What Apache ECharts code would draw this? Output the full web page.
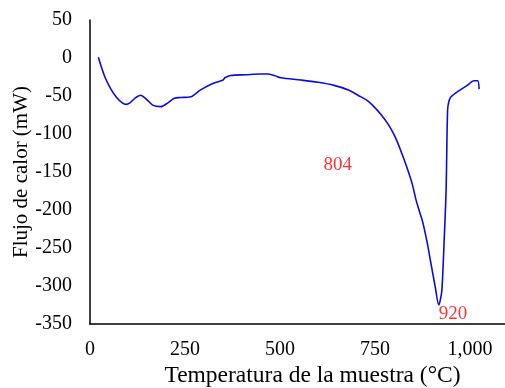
<!DOCTYPE html>
<html>
<head>
<meta charset="utf-8">
<script src="https://cdn.jsdelivr.net/npm/echarts@6/dist/echarts.min.js"></script>
<style>
  html, body { margin: 0; padding: 0; background: #fff; }
  #chart { width: 505px; height: 388px; }
</style>
</head>
<body>
<div id="chart"></div>
<script>
// temperatura (°C) y flujo de calor (mW)
const temperatura = [22, 30, 40, 55, 70, 85, 95, 105, 118, 133, 148, 165, 186, 205, 222, 238, 265, 291, 326, 350, 355, 370, 410, 449, 467, 485, 502, 555, 600, 642, 680, 705, 730, 747, 765, 783, 797, 810, 823, 836, 848, 858, 867, 876, 888, 897, 908, 918, 922, 926, 932, 937, 941, 945, 950, 968, 990, 1011, 1020, 1024]
const flujo = [1, -12, -26, -41, -52, -59, -61, -59, -53, -49, -54, -62, -64, -59, -53, -52, -51, -42, -33, -29, -26, -23, -22, -21, -21, -23, -26, -29, -32, -36, -42, -49, -56, -64, -74, -86, -98, -112, -129, -147, -166, -187, -202, -217, -245, -270, -300, -325, -318, -305, -239, -174, -68, -56, -51, -44, -37, -30, -30, -41]
const etiquetas = ['804', '920']
const etiquetaX = [652, 955]
const etiquetaY = [-141, -337]

const chart = echarts.init(document.getElementById('chart'))

const fuente = 'Liberation Serif'

const fmtMiles = (v) => {
  if (v % 250 !== 0) return ''
  return v >= 1000 ? Math.floor(v / 1000) + ',' + String(v % 1000).padStart(3, '0') : String(v)
}

chart.setOption({
  animation: false,
  grid: { left: 90, right: 0, top: 20, bottom: 64, outerBoundsMode: 'none' },
  xAxis: {
    type: 'value',
    min: 0,
    max: 1092,
    interval: 250,
    name: 'Temperatura de la muestra (°C)',
    nameLocation: 'middle',
    nameGap: 40,
    nameMoveOverlap: false,
    nameTextStyle: { fontFamily: fuente, fontSize: 23.5, color: '#000', padding: [0, 0, 0, 30] },
    axisLine: { show: true, onZero: false, lineStyle: { color: '#000', width: 1.5 } },
    axisTick: { show: false },
    splitLine: { show: false },
    axisLabel: {
      fontFamily: fuente,
      fontSize: 20,
      color: '#000',
      margin: 16,
      showMaxLabel: false,
      formatter: fmtMiles
    }
  },
  yAxis: {
    type: 'value',
    min: -350,
    max: 50,
    interval: 50,
    name: 'Flujo de calor (mW)',
    nameLocation: 'middle',
    nameGap: 58,
    nameMoveOverlap: false,
    nameTextStyle: { fontFamily: fuente, fontSize: 21, color: '#000' },
    axisLine: { show: true, lineStyle: { color: '#000', width: 1.5 } },
    axisTick: { show: false },
    splitLine: { show: false },
    axisLabel: { fontFamily: fuente, fontSize: 20, color: '#000', margin: 18 }
  },
  series: [
    {
      type: 'line',
      data: temperatura.map((t, i) => [t, flujo[i]]),
      smooth: 0.3,
      showSymbol: false,
      lineStyle: { color: '#0c0cd8', width: 1.6 }
    },
    {
      type: 'scatter',
      symbolSize: 1,
      itemStyle: { color: 'rgba(0,0,0,0)' },
      data: etiquetas.map((txt, i) => [etiquetaX[i], etiquetaY[i], txt]),
      label: {
        show: true,
        position: 'inside',
        formatter: (p) => p.value[2],
        fontFamily: fuente,
        fontSize: 19,
        color: '#ff0000'
      }
    }
  ]
})
</script>
</body>
</html>
